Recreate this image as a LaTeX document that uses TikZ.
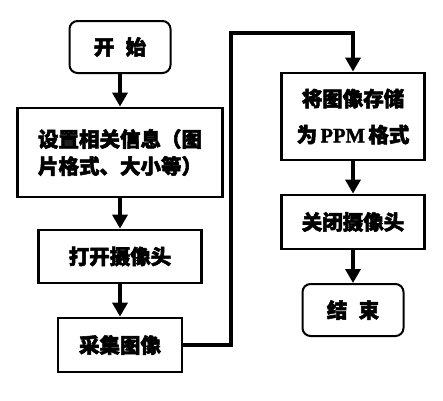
\documentclass[tikz,border=0pt]{standalone}
\usepackage{fontspec}
\newfontfamily\cjk{Noto Sans CJK SC}[BoldFeatures={FakeBold=2.5}]
\newfontfamily\lat{Liberation Serif}[BoldFeatures={FakeBold=1.5}]
\usetikzlibrary{arrows.meta}
\begin{document}
\begin{tikzpicture}[x=1pt,y=-1pt,
  box/.style={draw,line width=2.8pt,inner sep=0pt,align=center,
    font=\cjk\bfseries\fontsize{20.5}{27}\selectfont},
  rbox/.style={box,line width=2pt,rounded corners=8pt},
  arr/.style={line width=3.4pt,-{Triangle[width=15pt,length=14pt]}}]
\fill[white] (0,0) rectangle (443,400);
\useasboundingbox (0,0) rectangle (443,400);
\node[rbox,minimum width=101pt,minimum height=52pt] (start) at (120,47) {开\hspace{0.55em}始};
\node[box,minimum width=205pt,minimum height=89pt] (set) at (120,152.5) {设置相关信息（图\\片格式、大小等）};
\node[box,minimum width=143pt,minimum height=87pt] (save) at (353,116.5) {将图像存储\\[9pt]为\,{\lat\bfseries PPM}\,格式};
\node[box,minimum width=163pt,minimum height=53pt] (open) at (120,256.5) {打开摄像头};
\node[box,minimum width=124pt,minimum height=54pt] (cap) at (120,345) {采集图像};
\node[box,minimum width=143pt,minimum height=54pt] (close) at (353,222) {关闭摄像头};
\node[rbox,minimum width=101pt,minimum height=52pt] (end) at (353,310) {结\hspace{0.55em}束};
\coordinate (c1) at (231,33);
\draw[arr] (start) -- (set);
\draw[arr] (set) -- (open);
\draw[arr] (open) -- (cap);
\draw[arr] (cap.east) -| (c1) -| (save.north);
\draw[arr] (save) -- (close);
\draw[arr] (close) -- (end);
\end{tikzpicture}
\end{document}
